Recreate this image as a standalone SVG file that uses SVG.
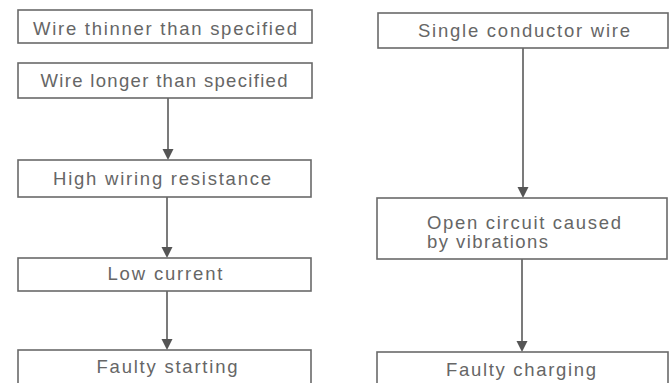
<svg xmlns="http://www.w3.org/2000/svg" width="670" height="383" viewBox="0 0 670 383">
<style>
.box{fill:#ffffff;stroke:#6a6a6a;stroke-width:1.6}
.t{font-family:"Liberation Sans",Arial,sans-serif;font-size:18.5px;fill:#666666}
.c{text-anchor:middle}
.ln{stroke:#5a5a5a;stroke-width:1.6;fill:none}
.hd{fill:#555555}
</style>
<rect width="670" height="383" fill="#ffffff"/>
<g id="connectors">
<path class="ln" d="M168,98 V150"/>
<path class="hd" d="M162.5,149 L173.5,149 L168,160 Z"/>
<path class="ln" d="M167,197 V248"/>
<path class="hd" d="M161.5,247 L172.5,247 L167,258 Z"/>
<path class="ln" d="M167,291 V340"/>
<path class="hd" d="M161.5,339 L172.5,339 L167,350 Z"/>
<path class="ln" d="M523,48 V188" stroke-width="1.2"/>
<path class="hd" d="M517.5,187 L528.5,187 L523,198 Z"/>
<path class="ln" d="M522,259 V342"/>
<path class="hd" d="M516.5,341 L527.5,341 L522,352 Z"/>
</g>
<g id="n1"><rect class="box" x="18" y="10" width="294" height="33"/><text class="t c" x="165" y="35" textLength="264" lengthAdjust="spacing">Wire thinner than specified</text></g>
<g id="n2"><rect class="box" x="18" y="63" width="294" height="35"/><text class="t c" x="164" y="87" textLength="247" lengthAdjust="spacing">Wire longer than specified</text></g>
<g id="n3"><rect class="box" x="18" y="160" width="293" height="37"/><text class="t c" x="162" y="185" textLength="218" lengthAdjust="spacing">High wiring resistance</text></g>
<g id="n4"><rect class="box" x="18" y="258" width="293" height="33"/><text class="t c" x="165" y="280" textLength="115" lengthAdjust="spacing">Low current</text></g>
<g id="n5"><rect class="box" x="18" y="350" width="293" height="36"/><text class="t c" x="167" y="373" textLength="141" lengthAdjust="spacing">Faulty starting</text></g>
<g id="n6"><rect class="box" x="378" y="13" width="290" height="35"/><text class="t c" x="524" y="37" textLength="212" lengthAdjust="spacing">Single conductor wire</text></g>
<g id="n7"><rect class="box" x="377" y="198" width="290" height="61"/><text class="t" x="427" y="229" textLength="194" lengthAdjust="spacing">Open circuit caused</text><text class="t" x="427" y="248" textLength="121" lengthAdjust="spacing">by vibrations</text></g>
<g id="n8"><rect class="box" x="377" y="352" width="291" height="36"/><text class="t c" x="521" y="376" textLength="150" lengthAdjust="spacing">Faulty charging</text></g>
</svg>
